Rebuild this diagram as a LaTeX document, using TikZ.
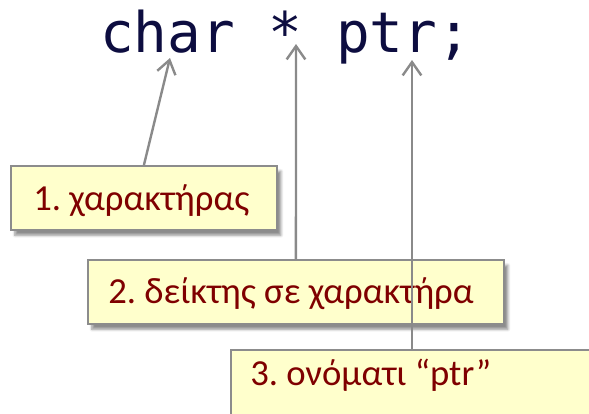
\documentclass[tikz,border=0pt]{standalone}
\usepackage{fontspec}
\setmainfont{Carlito}
\newfontfamily\codefont{DejaVu Sans Mono}
\usetikzlibrary{arrows.meta,shadows.blur}
\definecolor{boxfill}{HTML}{FFFFCC}
\definecolor{boxline}{HTML}{8C8C8C}
\definecolor{labeltext}{HTML}{7F0000}
\definecolor{codetext}{HTML}{0D0D40}
\definecolor{arrowgray}{HTML}{8A8A8A}
\frenchspacing
\tikzset{
  labelbox/.style={draw=boxline, line width=1.4pt, fill=boxfill, anchor=north west, inner sep=0pt,
    blur shadow={shadow xshift=3pt, shadow yshift=-4pt, shadow blur steps=6, shadow opacity=45}},
  labeltxt/.style={anchor=base west, inner sep=0pt, text=labeltext, font=\fontsize{27.5}{32}\selectfont},
  pointer/.style={draw=arrowgray, line width=1.8pt, -{Straight Barb[length=10pt,width=14pt,line width=1.8pt]}}
}
\begin{document}
\begin{tikzpicture}[x=0.75pt,y=-0.75pt]
\useasboundingbox (0,0) rectangle (589,414);
\clip (0,0) rectangle (589,414);
\node[anchor=base west, inner sep=0pt, text=codetext, font=\codefont\fontsize{42}{48}\selectfont] (code) at (100,52) {char * ptr;};
\coordinate (t1) at (170,58);
\coordinate (t2) at (296,44);
\coordinate (t3) at (412,60);
\node[labelbox, minimum width=199.5pt, minimum height=48pt] (b1) at (10,165) {};
\node[labeltxt] (l1) at (33,210) {1. χαρακτήρας};
\node[labelbox, minimum width=312pt, minimum height=48pt] (b2) at (87,259) {};
\node[labeltxt] (l2) at (108,303) {2. δείκτης σε χαρακτήρα};
\draw[pointer] (b1.north) -- (t1);
\draw[pointer] (b2.north) -- (t2);
\node[labelbox, minimum width=300pt, minimum height=70pt] (b3) at (230,349) {};
\node[labeltxt] (l3) at (250,385) {3. ονόματι “ptr”};
\draw[pointer] (t3 |- b3.north) -- (t3);
\end{tikzpicture}
\end{document}
